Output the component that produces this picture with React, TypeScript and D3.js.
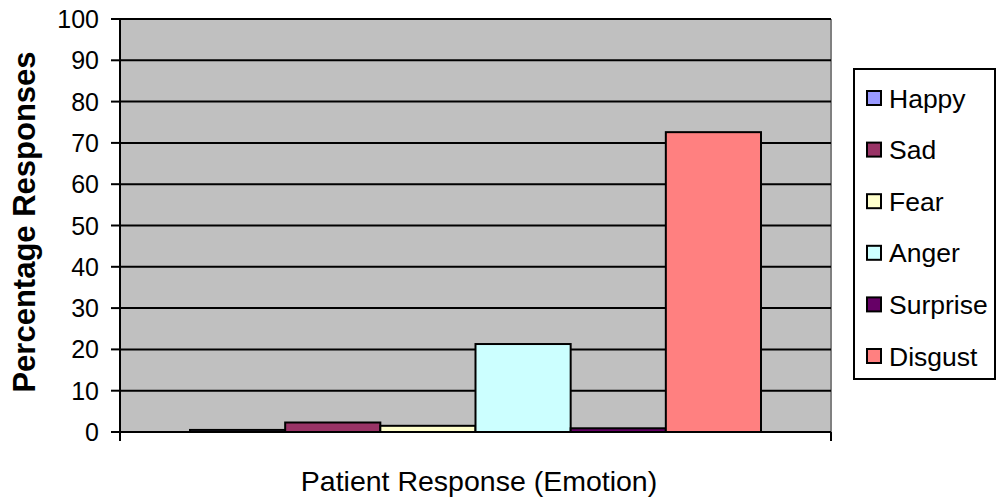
import React from "react";
import * as d3 from "d3";

const categories = [""];
const seriesNames = ["Happy", "Sad", "Fear", "Anger", "Surprise", "Disgust"];
const seriesValues = [0.5, 2.3, 1.5, 21.3, 0.9, 72.6];
const seriesColors = ["#9999FF", "#993366", "#FFFFCC", "#CCFFFF", "#660066", "#FF8080"];
const yTicks = [0, 10, 20, 30, 40, 50, 60, 70, 80, 90, 100];

const W = 996;
const H = 501;
const plot = { left: 120, right: 831, top: 19, bottom: 432 };
const font = "'Liberation Sans', Arial, sans-serif";

export default function App() {
  const y = d3.scaleLinear().domain([0, 100]).range([plot.bottom, plot.top]);
  const x0 = d3
    .scaleBand<string>()
    .domain(categories)
    .range([plot.left, plot.right])
    .paddingInner(0)
    .paddingOuter(0.1226);
  const x1 = d3
    .scaleBand<string>()
    .domain(seriesNames)
    .range([0, x0.bandwidth()]);

  return (
    <svg
      width={W}
      height={H}
      style={{ position: "absolute", left: 0, top: 0, background: "#fff" }}
      fontFamily={font}
    >
      <rect
        x={plot.left}
        y={plot.top}
        width={plot.right - plot.left}
        height={plot.bottom - plot.top}
        fill="#C0C0C0"
      />
      {/* right border */}
      <line x1={plot.right} x2={plot.right} y1={plot.top} y2={plot.bottom} stroke="#808080" strokeWidth={2} />
      {/* gridlines */}
      {yTicks.map((t) => (
        <line
          key={"g" + t}
          x1={plot.left}
          x2={plot.right}
          y1={y(t)}
          y2={y(t)}
          stroke="#000"
          strokeWidth={2}
        />
      ))}
      {/* bars */}
      {categories.map((c) =>
        seriesNames.map((s, i) => (
          <rect
            key={c + s}
            x={(x0(c) ?? 0) + (x1(s) ?? 0)}
            y={y(seriesValues[i])}
            width={x1.bandwidth()}
            height={y(0) - y(seriesValues[i])}
            fill={seriesColors[i]}
            stroke="#000"
            strokeWidth={2}
          />
        ))
      )}
      {/* y axis */}
      <line x1={plot.left} x2={plot.left} y1={plot.top} y2={plot.bottom + 1} stroke="#000" strokeWidth={2} />
      {yTicks.map((t) => (
        <g key={"t" + t}>
          <line x1={plot.left - 9} x2={plot.left} y1={y(t)} y2={y(t)} stroke="#000" strokeWidth={2} />
          <text
            x={plot.left - 21}
            y={y(t)}
            dy="0.36em"
            textAnchor="end"
            fontSize={25}
            fill="#000"
          >
            {t}
          </text>
        </g>
      ))}
      {/* x axis */}
      <line x1={plot.left} x2={plot.right} y1={plot.bottom} y2={plot.bottom} stroke="#000" strokeWidth={2} />
      <line x1={plot.left} x2={plot.left} y1={plot.bottom} y2={plot.bottom + 9} stroke="#000" strokeWidth={2} />
      <line x1={plot.right} x2={plot.right} y1={plot.bottom} y2={plot.bottom + 9} stroke="#000" strokeWidth={2} />

      {/* axis titles */}
      <text x={479} y={491} textAnchor="middle" fontSize={28.5} fill="#000">
        Patient Response (Emotion)
      </text>
      <text
        transform="translate(35, 222) rotate(-90)"
        textAnchor="middle"
        fontSize={31}
        fontWeight="bold"
        fill="#000"
      >
        Percentage Responses
      </text>

      {/* legend */}
      <rect x={854} y={69} width={141} height={310} fill="#fff" stroke="#000" strokeWidth={2} />
      {seriesNames.map((s, i) => {
        const cy = 98 + i * 51.6;
        return (
          <g key={"l" + s}>
            <rect x={867} y={cy - 7} width={14} height={14} fill={seriesColors[i]} stroke="#000" strokeWidth={2} />
            <text x={889} y={cy} dy="0.36em" fontSize={26.5} fill="#000">
              {s}
            </text>
          </g>
        );
      })}
    </svg>
  );
}
